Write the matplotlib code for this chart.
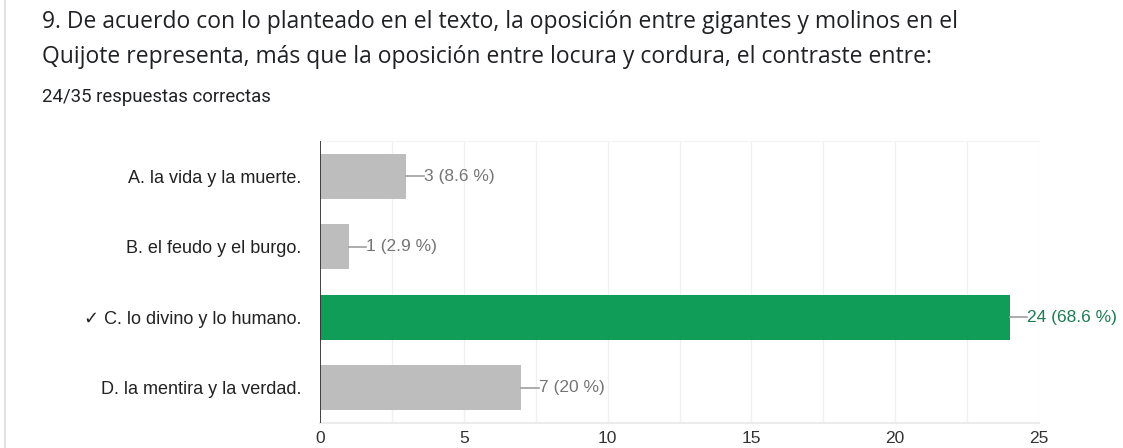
import matplotlib
matplotlib.use("Agg")
import matplotlib.pyplot as plt
from matplotlib.lines import Line2D

categories = ["A. la vida y la muerte.", "B. el feudo y el burgo.",
              "\u2713 C. lo divino y lo humano.", "D. la mentira y la verdad."]
counts = [3, 1, 24, 7]
percents = ["8.6", "2.9", "68.6", "20"]
correct = [False, False, True, False]
xticks = [0, 5, 10, 15, 20, 25]
title_lines = ["9. De acuerdo con lo planteado en el texto, la oposición entre gigantes y molinos en el",
               "Quijote representa, más que la oposición entre locura y cordura, el contraste entre:"]
subtitle = "24/35 respuestas correctas"

W, H = 1123, 448
fig = plt.figure(figsize=(W / 100, H / 100), dpi=100)
fig.patch.set_facecolor("white")

ax = fig.add_axes([320 / W, 1 - 423 / H, (1039 - 320) / W, (423 - 141) / H])
ypos = list(range(len(categories)))
colors = ["#0f9d58" if c else "#bdbdbd" for c in correct]
ax.barh(ypos, counts, height=0.64, color=colors, zorder=3)
ax.set_ylim(3.5, -0.5)
ax.set_xlim(0, 25)

for x in [i * 2.5 for i in range(1, 11)]:
    ax.axvline(x, color="#f0f0f0", lw=1, zorder=1)
ax.axhline(3.5, color="#ebebeb", lw=1.5, zorder=1, clip_on=False)
ax.axhline(-0.5, color="#f5f5f5", lw=1, zorder=1, clip_on=False)
ax.axvline(0, color="#333333", lw=1.3, zorder=4)

for s in ax.spines.values():
    s.set_visible(False)
ax.set_xticks(xticks)
ax.set_xticklabels([str(t) for t in xticks], fontsize=12.5, color="#333333",
                   family="Liberation Sans")
ax.tick_params(axis="x", length=0, pad=6)
ax.set_yticks(ypos)
ax.set_yticklabels(categories, fontsize=13, color="#222222",
                   family=["Liberation Sans", "DejaVu Sans"])
ax.tick_params(axis="y", length=0, pad=13.5)

for y, c, p, ok in zip(ypos, counts, percents, correct):
    tcol = "#1e7b52" if ok else "#757575"
    ax.plot([c, c + 0.6], [y, y], color="#9e9e9e", lw=1.2, zorder=4, clip_on=False)
    ax.text(c + 0.6, y, f"{c} ({p} %)", va="center", ha="left", fontsize=12.5,
            color=tcol, family="Liberation Sans", zorder=5)

fig.text(42 / W, 1 - 22 / H, title_lines[0], fontsize=16.5, color="#202124",
         family="Open Sans", va="center", ha="left")
fig.text(42 / W, 1 - 57 / H, title_lines[1], fontsize=16.5, color="#202124",
         family="Open Sans", va="center", ha="left")
fig.text(42 / W, 1 - 97 / H, subtitle, fontsize=13.4, color="#202124",
         family="Roboto", va="center", ha="left")

fig.add_artist(Line2D([5 / W, 5 / W], [0, 1], color="#dadce0", lw=1.2))

fig.savefig("out.png", dpi=100, facecolor="white")
